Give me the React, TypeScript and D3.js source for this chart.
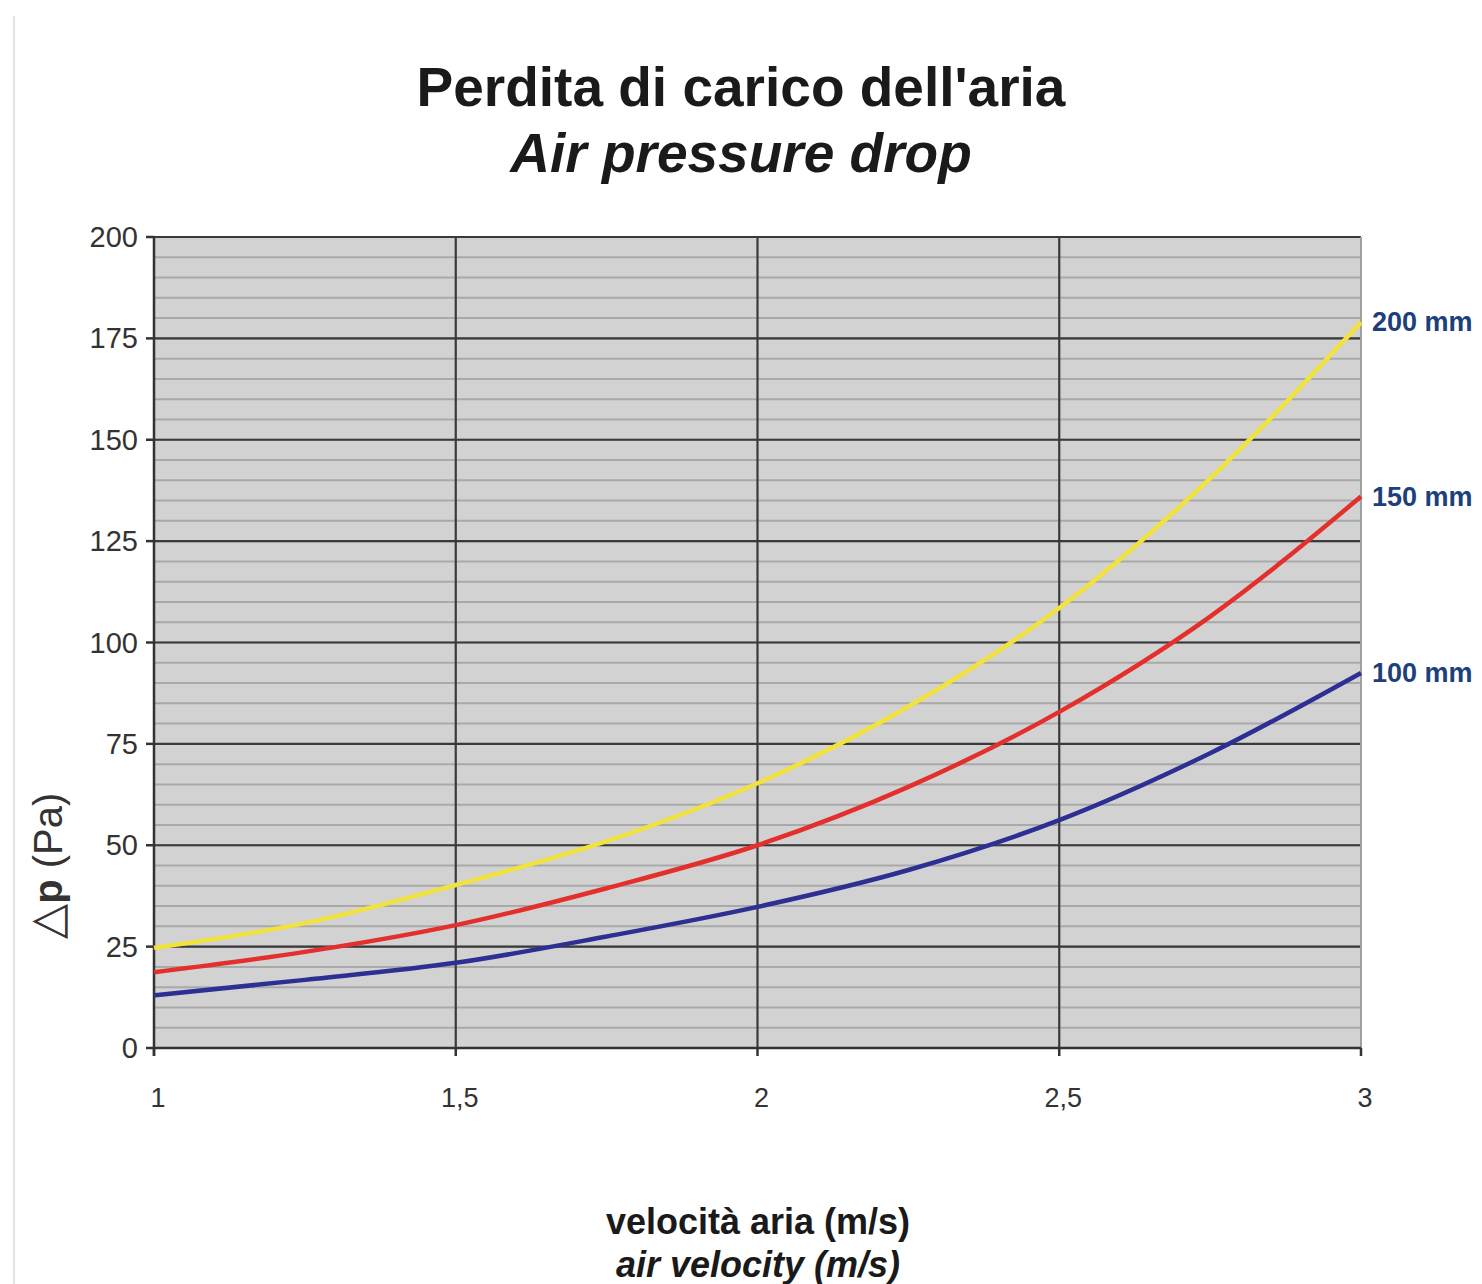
import React from 'react';
import * as d3 from 'd3';

// velocità aria (m/s)
const velocity = [1, 1.25, 1.5, 1.75, 2, 2.25, 2.5, 2.75, 3];
// perdita di carico (Pa) per diametro
const dp200 = [24.7, 30.8, 40.2, 51, 65.3, 84.2, 108.5, 140.5, 179];
const dp150 = [18.7, 23.7, 30.3, 39.4, 50, 64.4, 82.9, 106.4, 136];
const dp100 = [13, 16.8, 21, 27.5, 34.8, 43.9, 56.2, 72.7, 92.5];

const seriesNames = ['200 mm', '150 mm', '100 mm'];
const seriesColors = ['#f1e23e', '#e3302c', '#2d2f92'];

const yTicks = [0, 25, 50, 75, 100, 125, 150, 175, 200];
const xTicks = [1, 1.5, 2, 2.5, 3];

const W = 1482;
const H = 1284;
const left = 154;
const right = 1361;
const top = 237;
const bottom = 1048;

export default function App() {
  const x = d3.scaleLinear().domain([1, 3]).range([left, right]);
  const y = d3.scaleLinear().domain([0, 200]).range([bottom, top]);
  const minor = d3.range(0, 201, 5);
  const series = [dp200, dp150, dp100];

  const line = d3
    .line<number>()
    .x((_, i) => x(velocity[i]))
    .y((d) => y(d))
    .curve(d3.curveMonotoneX);

  const fmt = (v: number) => String(v).replace('.', ',');
  const font = 'Liberation Sans, Arial, sans-serif';

  return (
    <svg
      width={W}
      height={H}
      style={{ position: 'absolute', left: 0, top: 0, background: '#fff' }}
      fontFamily={font}
    >
      <line x1={14} x2={14} y1={16} y2={H} stroke="#e4e4e4" strokeWidth={2} />

      {/* titolo */}
      <text x={741} y={106} textAnchor="middle" fontSize={55} fontWeight="bold" fill="#1a1a1a">
        Perdita di carico dell'aria
      </text>
      <text x={741} y={172} textAnchor="middle" fontSize={55} fontWeight="bold" fontStyle="italic" fill="#1a1a1a">
        Air pressure drop
      </text>

      {/* area del grafico */}
      <rect x={left} y={top} width={right - left} height={bottom - top} fill="#d2d2d2" />
      {minor.map((v) => (
        <line key={'m' + v} x1={left} x2={right} y1={y(v)} y2={y(v)} stroke="#a9a9a9" strokeWidth={2} />
      ))}
      {yTicks.map((v) => (
        <line key={'g' + v} x1={left} x2={right} y1={y(v)} y2={y(v)} stroke="#3a3a3a" strokeWidth={2.2} />
      ))}
      {xTicks.slice(1, -1).map((v) => (
        <line key={'v' + v} x1={x(v)} x2={x(v)} y1={top} y2={bottom} stroke="#3a3a3a" strokeWidth={2.2} />
      ))}
      <line x1={right} x2={right} y1={top} y2={bottom} stroke="#a0a0a0" strokeWidth={2} />

      {/* assi */}
      <line x1={left} x2={left} y1={top} y2={bottom + 8} stroke="#333" strokeWidth={2.5} />
      <line x1={left} x2={right} y1={bottom} y2={bottom} stroke="#333" strokeWidth={2.5} />
      {yTicks.map((v) => (
        <g key={'yt' + v}>
          <line x1={left - 8} x2={left} y1={y(v)} y2={y(v)} stroke="#333" strokeWidth={2.5} />
          <text x={left - 16} y={y(v) + 10} textAnchor="end" fontSize={29} fill="#333">
            {v}
          </text>
        </g>
      ))}
      {xTicks.map((v) => (
        <g key={'xt' + v}>
          <line x1={x(v)} x2={x(v)} y1={bottom} y2={bottom + 8} stroke="#333" strokeWidth={2.5} />
          <text x={x(v) + 4} y={bottom + 59} textAnchor="middle" fontSize={27} fill="#333">
            {fmt(v)}
          </text>
        </g>
      ))}

      {/* curve */}
      {series.map((s, i) => (
        <path key={seriesNames[i]} d={line(s) ?? ''} fill="none" stroke={seriesColors[i]} strokeWidth={4.5} />
      ))}
      {series.map((s, i) => (
        <text
          key={'l' + i}
          x={right + 11}
          y={y(s[s.length - 1]) + 9}
          fontSize={27}
          fontWeight="bold"
          fill="#1d3f7c"
        >
          {seriesNames[i]}
        </text>
      ))}

      {/* titolo asse y */}
      <text transform="translate(62,866) rotate(-90)" textAnchor="middle" fontSize={40} fill="#333">
        <tspan fontFamily="DejaVu Sans" fontSize={46}>△</tspan>
        <tspan fontWeight="bold">p</tspan>
        <tspan> (Pa)</tspan>
      </text>

      {/* titolo asse x */}
      <text x={758} y={1234} textAnchor="middle" fontSize={36} fontWeight="bold" fill="#1a1a1a">
        velocità aria (m/s)
      </text>
      <text x={758} y={1277} textAnchor="middle" fontSize={36} fontWeight="bold" fontStyle="italic" fill="#1a1a1a">
        air velocity (m/s)
      </text>
    </svg>
  );
}
